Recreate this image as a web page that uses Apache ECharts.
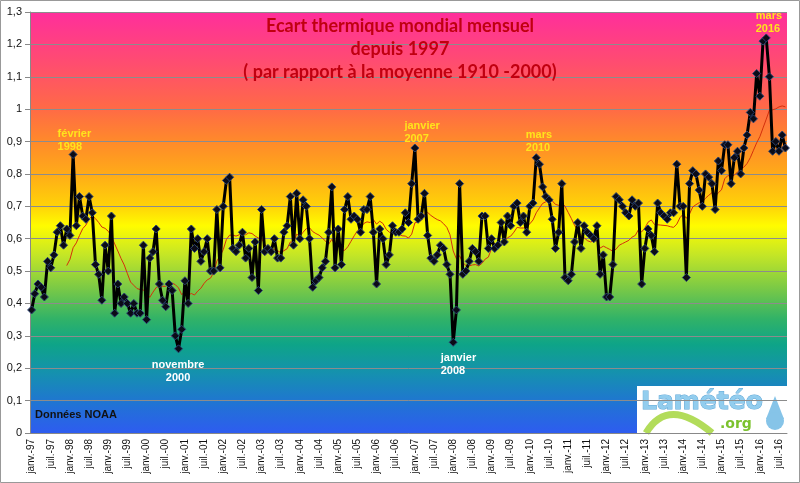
<!DOCTYPE html>
<html>
  <head>
    <meta charset="utf-8" />
    <title>Ecart thermique mondial mensuel</title>
    <script src="https://cdn.jsdelivr.net/npm/echarts@6/dist/echarts.min.js"></script>
    <style>
      html, body { margin: 0; padding: 0; background: #fff; }
    </style>
  </head>
  <body>
    <div id="main" style="width: 800px; height: 483px"></div>

    <script type="text/javascript">
      // month names for the category axis (labels shown every 6 months)
      var monthNames = ["janv.", "févr.", "mars", "avr.", "mai", "juin",
                        "juil.", "août", "sept.", "oct.", "nov.", "déc."];
      var startYear = 1997;

      // monthly anomaly (°C), janv. 1997 -> sept. 2016
      var anomaly = [
        0.38, 0.43, 0.46, 0.45, 0.42, 0.53, 0.51, 0.55, 0.62, 0.64, 0.58, 0.63, // 1997
        0.61, 0.86, 0.64, 0.73, 0.67, 0.66, 0.73, 0.68, 0.52, 0.49, 0.41, 0.58, // 1998
        0.50, 0.67, 0.37, 0.46, 0.40, 0.42, 0.40, 0.37, 0.40, 0.37, 0.37, 0.58, // 1999
        0.35, 0.54, 0.56, 0.63, 0.46, 0.41, 0.39, 0.46, 0.44, 0.30, 0.26, 0.32, // 2000
        0.47, 0.40, 0.63, 0.57, 0.60, 0.53, 0.56, 0.60, 0.50, 0.50, 0.69, 0.51, // 2001
        0.70, 0.78, 0.79, 0.57, 0.56, 0.58, 0.62, 0.54, 0.57, 0.48, 0.59, 0.44, // 2002
        0.69, 0.56, 0.57, 0.56, 0.60, 0.54, 0.54, 0.62, 0.64, 0.73, 0.58, 0.74, // 2003
        0.60, 0.72, 0.70, 0.60, 0.45, 0.47, 0.48, 0.51, 0.53, 0.62, 0.76, 0.51, // 2004
        0.63, 0.52, 0.69, 0.73, 0.66, 0.67, 0.66, 0.62, 0.69, 0.69, 0.73, 0.62, // 2005
        0.46, 0.63, 0.60, 0.52, 0.55, 0.64, 0.62, 0.62, 0.63, 0.68, 0.65, 0.77, // 2006
        0.88, 0.66, 0.67, 0.74, 0.61, 0.54, 0.53, 0.55, 0.58, 0.57, 0.52, 0.49, // 2007
        0.28, 0.38, 0.77, 0.49, 0.50, 0.53, 0.57, 0.56, 0.53, 0.67, 0.67, 0.57, // 2008
        0.60, 0.57, 0.58, 0.65, 0.59, 0.67, 0.64, 0.70, 0.71, 0.65, 0.67, 0.62, // 2009
        0.70, 0.71, 0.85, 0.83, 0.76, 0.73, 0.72, 0.66, 0.57, 0.62, 0.77, 0.48, // 2010
        0.47, 0.49, 0.59, 0.65, 0.57, 0.64, 0.62, 0.61, 0.60, 0.64, 0.49, 0.55, // 2011
        0.42, 0.42, 0.52, 0.73, 0.72, 0.70, 0.68, 0.67, 0.72, 0.70, 0.71, 0.46, // 2012
        0.57, 0.63, 0.61, 0.56, 0.71, 0.68, 0.67, 0.66, 0.68, 0.68, 0.83, 0.70, // 2013
        0.70, 0.48, 0.77, 0.81, 0.80, 0.75, 0.70, 0.80, 0.79, 0.77, 0.69, 0.84, // 2014
        0.81, 0.89, 0.89, 0.77, 0.85, 0.87, 0.80, 0.88, 0.92, 0.99, 0.97, 1.11, // 2015
        1.04, 1.21, 1.22, 1.10, 0.87, 0.90, 0.87, 0.92, 0.88                    // 2016
      ];

      // annotated months: [index in anomaly, text, colour, label offset, align]
      var notes = [
        [13, "février\n1998", "#ffe41c", [-15, -27], "left"],
        [46, "novembre\n2000", "#ffffff", [0, 10], "center"],
        [120, "janvier\n2007", "#ffe41c", [-10, -28], "left"],
        [132, "janvier\n2008", "#ffffff", [-12, 10], "left"],
        [158, "mars\n2010", "#ffe41c", [-10, -29], "left"],
        [230, "mars\n2016", "#ffe41c", [-10, -28], "left"]
      ];

      var categories = anomaly.map(function (v, i) {
        var y = (startYear + Math.floor(i / 12)) % 100;
        return monthNames[i % 12] + "-" + (y < 10 ? "0" : "") + y;
      });

      // the red curve is the chart's 12-month moving-average trendline of the same data
      var movingAvg = anomaly.map(function (v, i) {
        if (i < 11) return null;
        var s = 0;
        for (var k = i - 11; k <= i; k++) s += anomaly[k];
        return +(s / 12).toFixed(3);
      });

      var myChart = echarts.init(document.getElementById("main"));

      var option = {
        animation: false,
        title: {
          text: "Ecart thermique mondial mensuel\ndepuis 1997\n( par rapport à la moyenne 1910 -2000)",
          left: "center",
          top: 10,
          textStyle: {
            color: "#c00010",
            fontFamily: "Lato",
            fontWeight: "bold",
            fontSize: 18,
            lineHeight: 23
          }
        },
        grid: {
          left: 30,
          right: 13,
          top: 12,
          bottom: 50,
          show: true,
          borderWidth: 0,
          backgroundColor: {
            type: "linear", x: 0, y: 0, x2: 0, y2: 1,
            colorStops: [
              { offset: 0, color: "#ff2e9c" },
              { offset: 0.115, color: "#ff4b72" },
              { offset: 0.23, color: "#ff6a46" },
              { offset: 0.308, color: "#ff8a2a" },
              { offset: 0.385, color: "#ffab18" },
              { offset: 0.46, color: "#ffd208" },
              { offset: 0.508, color: "#fffc00" },
              { offset: 0.577, color: "#c4e626" },
              { offset: 0.654, color: "#7cca45" },
              { offset: 0.73, color: "#30b268" },
              { offset: 0.79, color: "#0ea488" },
              { offset: 0.86, color: "#1590b0" },
              { offset: 0.94, color: "#2270d8" },
              { offset: 1, color: "#2e5cf0" }
            ]
          }
        },
        xAxis: {
          type: "category",
          data: categories,
          boundaryGap: true,
          axisLine: { lineStyle: { color: "#888" } },
          axisTick: { interval: 5, length: 6, lineStyle: { color: "#888" } },
          axisLabel: {
            interval: 5,
            rotate: 90,
            margin: 6,
            color: "#111",
            fontFamily: "Liberation Sans",
            fontSize: 10
          }
        },
        yAxis: {
          type: "value",
          min: 0,
          max: 1.3,
          interval: 0.1,
          axisLine: { show: true, lineStyle: { color: "#888" } },
          axisTick: { show: true, length: 5, lineStyle: { color: "#888" } },
          splitLine: { lineStyle: { color: "#8c8c8c", width: 1 } },
          axisLabel: {
            margin: 8,
            color: "#111",
            fontFamily: "Liberation Sans",
            fontSize: 11,
            formatter: function (v) {
              return String(Math.round(v * 10) / 10).replace(".", ",");
            }
          }
        },
        series: [
          {
            name: "Moyenne mobile",
            type: "line",
            data: movingAvg,
            symbol: "none",
            z: 2,
            lineStyle: { color: "#d4300c", width: 1 }
          },
          {
            name: "Ecart mensuel",
            type: "line",
            data: anomaly,
            z: 3,
            symbol: "diamond",
            symbolSize: 8,
            showAllSymbol: true,
            lineStyle: { color: "#000", width: 3 },
            itemStyle: { color: "#0b0b16", borderColor: "#2a4272", borderWidth: 1 },
            markPoint: {
              symbol: "circle",
              symbolSize: 1,
              itemStyle: { color: "rgba(0,0,0,0)" },
              data: notes.map(function (n) {
                return {
                  coord: [n[0], anomaly[n[0]]],
                  label: {
                    show: true,
                    formatter: n[1],
                    position: n[3],
                    align: n[4],
                    verticalAlign: "top",
                    color: n[2],
                    fontFamily: "Liberation Sans",
                    fontWeight: "bold",
                    fontSize: 11,
                    lineHeight: 13
                  }
                };
              })
            }
          }
        ],
        graphic: [
          {
            type: "rect",
            silent: true,
            shape: { x: 0.5, y: 0.5, width: 799, height: 482 },
            style: { fill: "none", stroke: "#999", lineWidth: 1 },
            z: 100
          },
          {
            type: "text",
            left: 35,
            top: 409,
            style: {
              text: "Données NOAA",
              fill: "#111",
              font: "bold 11px Liberation Sans"
            },
            z: 50
          },
          {
            type: "group",
            z: 50,
            children: [
              { type: "rect", shape: { x: 637, y: 386, width: 150, height: 47 }, style: { fill: "#fff" } },
              {
                type: "bezierCurve",
                shape: { x1: 646, y1: 433, x2: 712, y2: 433, cpx1: 668, cpy1: 396 },
                style: { stroke: "#b2dc5a", lineWidth: 7, fill: "none" }
              },
              {
                type: "text",
                style: {
                  x: 641, y: 390,
                  text: "Lamétéo",
                  font: "bold 25px DejaVu Sans",
                  fill: "#92cdee",
                  stroke: "#5fa6d6",
                  lineWidth: 1
                }
              },
              {
                type: "text",
                style: { x: 720, y: 417, text: ".org", font: "bold 14px DejaVu Sans", fill: "#7cc22e" }
              },
              { type: "polygon", shape: { points: [[766, 419], [775, 396], [784, 419]] }, style: { fill: "#86c4e8" } },
              { type: "circle", shape: { cx: 775, cy: 421, r: 9 }, style: { fill: "#86c4e8" } }
            ]
          }
        ]
      };

      myChart.setOption(option);
    </script>
  </body>
</html>
